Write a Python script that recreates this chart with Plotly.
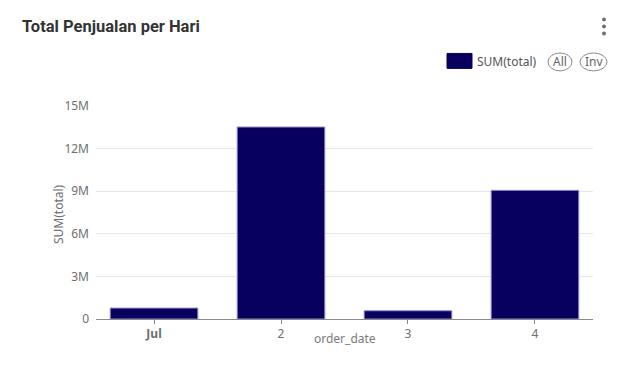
import plotly.graph_objects as go

# ---- data ----
categories = ["Jul", "2", "3", "4"]
tick_labels = ["<b>Jul</b>", "2", "3", "4"]
sum_total = [770000, 13520000, 580000, 9060000]
series_name = "SUM(total)"
y_ticks = [0, 3e6, 6e6, 9e6, 12e6, 15e6]
y_tick_labels = ["0", "3M", "6M", "9M", "12M", "15M"]

W, H = 630, 369
L, R, T, B = 96, 593, 105.7, 319.3  # plot area in px


def px(x):
    return (x - L) / (R - L)


def py(y):
    return (B - y) / (B - T)


BAR = "#07005e"
FONT = "Noto Sans"

fig = go.Figure()
fig.add_trace(go.Bar(
    x=categories, y=sum_total, name=series_name,
    marker=dict(color=BAR, line=dict(color="#8f8ccc", width=1)),
    width=0.69, showlegend=False,
))

fig.update_layout(
    width=W, height=H,
    margin=dict(l=L, r=W - R, t=T, b=H - B),
    plot_bgcolor="white", paper_bgcolor="white",
    font=dict(family=FONT, size=12, color="#6e6e6e"),
    xaxis=dict(
        type="category", range=[-0.457, 3.457],
        tickvals=categories, ticktext=tick_labels,
        showgrid=False, showline=True, linecolor="#8a8a8a", linewidth=1,
        ticks="outside", ticklen=4, tickcolor="#8a8a8a",
        tickfont=dict(size=12, color="#6e6e6e"),
    ),
    yaxis=dict(
        range=[0, 15e6], tickvals=y_ticks, ticktext=y_tick_labels,
        showgrid=True, gridcolor="#e6e6f0", gridwidth=1,
        zeroline=False, showline=False, ticks="",
        ticklabelstandoff=6,
        tickfont=dict(size=12, color="#6e6e6e"),
    ),
    bargap=0.31,
)

anns = [
    dict(text="<b>Total Penjualan per Hari</b>", xref="paper", yref="paper",
         x=px(20), y=py(26), xanchor="left", yanchor="middle", showarrow=False,
         font=dict(family="Roboto", size=16.5, color="#333333")),
    dict(text="order_date", xref="paper", yref="paper",
         x=px(345), y=py(339), xanchor="center", yanchor="middle", showarrow=False,
         font=dict(size=12, color="#7a7a7a")),
    dict(text="SUM(total)", xref="paper", yref="paper", textangle=-90,
         x=px(59), y=py(214), xanchor="center", yanchor="middle", showarrow=False,
         font=dict(size=12, color="#6e6e6e")),
    dict(text=series_name, xref="paper", yref="paper",
         x=px(475), y=py(61), xanchor="left", yanchor="middle", showarrow=False,
         font=dict(size=12, color="#555555")),
    dict(text="All", xref="paper", yref="paper",
         x=px(560), y=py(61), xanchor="center", yanchor="middle", showarrow=False,
         font=dict(size=12, color="#666666")),
    dict(text="Inv", xref="paper", yref="paper",
         x=px(593.5), y=py(61), xanchor="center", yanchor="middle", showarrow=False,
         font=dict(size=12, color="#666666")),
]
fig.update_layout(annotations=anns)

shapes = [
    dict(type="rect", xref="paper", yref="paper",
         x0=px(447), x1=px(472), y0=py(53), y1=py(68),
         fillcolor=BAR, line=dict(color=BAR, width=1)),
    dict(type="circle", xref="paper", yref="paper",
         x0=px(548), x1=px(572), y0=py(52.5), y1=py(70.5),
         fillcolor="rgba(0,0,0,0)", line=dict(color="#8a8a8a", width=1)),
    dict(type="circle", xref="paper", yref="paper",
         x0=px(580), x1=px(607), y0=py(52.5), y1=py(70.5),
         fillcolor="rgba(0,0,0,0)", line=dict(color="#8a8a8a", width=1)),
]
for cy in (19, 26, 33):
    shapes.append(dict(type="circle", xref="paper", yref="paper",
                       x0=px(602), x1=px(606), y0=py(cy - 2), y1=py(cy + 2),
                       fillcolor="#707070", line=dict(width=0)))
fig.update_layout(shapes=shapes)

fig.write_html("out.html", config={"displayModeBar": False},
               post_script="document.body.style.margin='0px';document.body.style.overflow='hidden';")
